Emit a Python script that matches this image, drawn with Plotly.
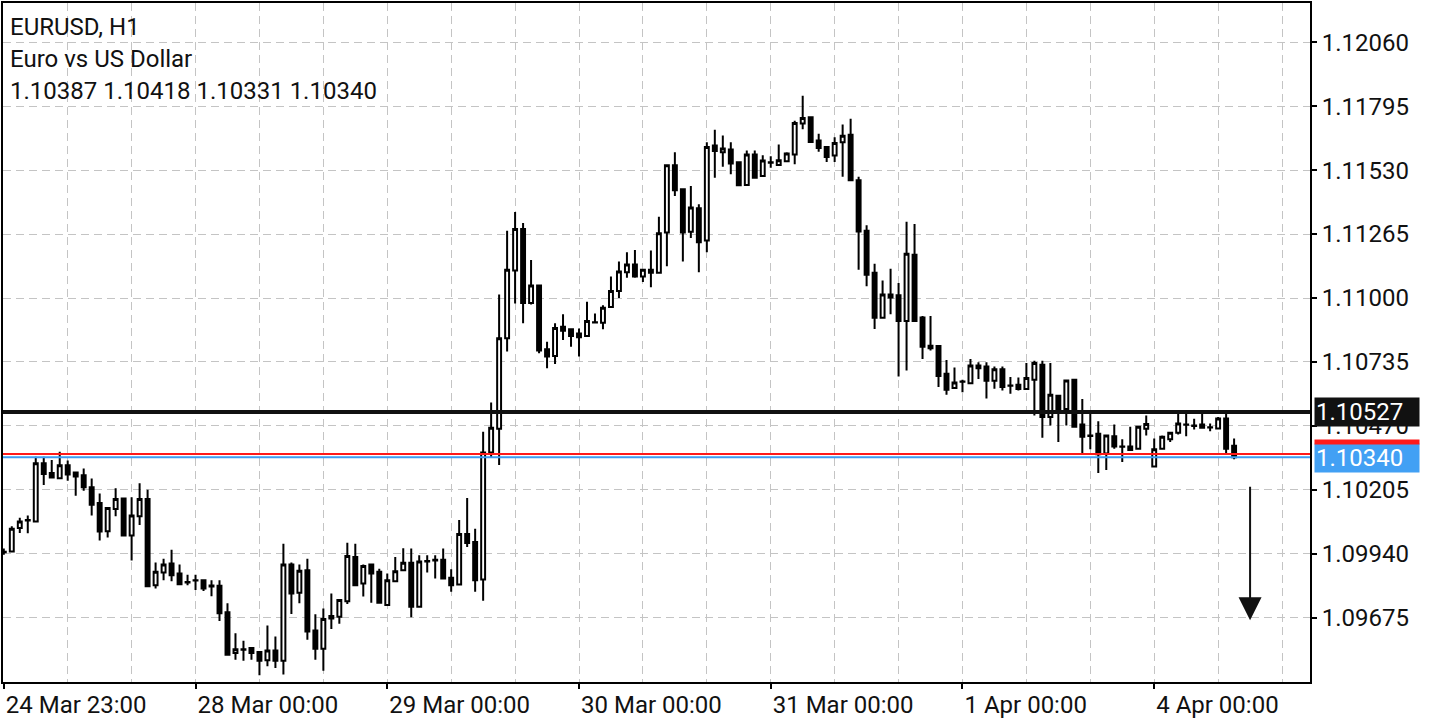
import plotly.graph_objects as go

# EURUSD H1 bars, index 0 = 24 Mar 23:00
opens = [1.09948, 1.09949, 1.10046, 1.10078, 1.10073, 1.10315, 1.10274, 1.10253, 1.10307, 1.10277,
         1.10265, 1.10215, 1.10150, 1.10033, 1.10125, 1.10169, 1.10015, 1.10095, 1.10167, 1.09809,
         1.09862, 1.09899, 1.09858, 1.09823, 1.09830, 1.09830, 1.09808, 1.09807, 1.09697, 1.09528,
         1.09544, 1.09549, 1.09532, 1.09498, 1.09539, 1.09496, 1.09895, 1.09778, 1.09871, 1.09621,
         1.09546, 1.09682, 1.09679, 1.09743, 1.09926, 1.09816, 1.09895, 1.09865, 1.09727, 1.09826,
         1.09871, 1.09902, 1.09720, 1.09910, 1.09915, 1.09915, 1.09840, 1.09812, 1.10022, 1.09988,
         1.09833, 1.10359, 1.10458, 1.10833, 1.11114, 1.11286, 1.10979, 1.11052, 1.10787, 1.10760,
         1.10881, 1.10870, 1.10853, 1.10842, 1.10899, 1.10897, 1.10963, 1.11029, 1.11107, 1.11139,
         1.11089, 1.11117, 1.11105, 1.11272, 1.11550, 1.11451, 1.11275, 1.11372, 1.11238, 1.11632,
         1.11604, 1.11616, 1.11563, 1.11468, 1.11595, 1.11506, 1.11563, 1.11551, 1.11567, 1.11595,
         1.11723, 1.11749, 1.11653, 1.11626, 1.11591, 1.11646, 1.11677, 1.11488, 1.11279, 1.11105,
         1.10918, 1.11015, 1.11011, 1.10905, 1.11179, 1.10919, 1.10802, 1.10801, 1.10686, 1.10627,
         1.10654, 1.10647, 1.10720, 1.10716, 1.10657, 1.10705, 1.10637, 1.10640, 1.10623, 1.10661,
         1.10723, 1.10507, 1.10595, 1.10540, 1.10661, 1.10476, 1.10430, 1.10437, 1.10355, 1.10427,
         1.10384, 1.10384, 1.10375, 1.10458, 1.10301, 1.10375, 1.10414, 1.10441, 1.10476, 1.10471,
         1.10476, 1.10464, 1.10459, 1.10500, 1.10387]
highs = [1.09961, 1.10054, 1.10089, 1.10098, 1.10342, 1.10342, 1.10328, 1.10363, 1.10326, 1.10278,
         1.10293, 1.10252, 1.10190, 1.10134, 1.10211, 1.10170, 1.10174, 1.10232, 1.10205, 1.09903,
         1.09919, 1.09956, 1.09895, 1.09853, 1.09853, 1.09834, 1.09830, 1.09830, 1.09734, 1.09610,
         1.09579, 1.09552, 1.09533, 1.09642, 1.09597, 1.09981, 1.09903, 1.09895, 1.09919, 1.09689,
         1.09713, 1.09775, 1.09749, 1.09985, 1.09981, 1.09895, 1.09896, 1.09878, 1.09858, 1.09926,
         1.09963, 1.09961, 1.09933, 1.09933, 1.09933, 1.09961, 1.09875, 1.10080, 1.10171, 1.10043,
         1.10445, 1.10567, 1.11014, 1.11279, 1.11357, 1.11311, 1.11158, 1.11053, 1.10819, 1.10895,
         1.10933, 1.10871, 1.10874, 1.10984, 1.10936, 1.10970, 1.11089, 1.11151, 1.11190, 1.11199,
         1.11118, 1.11197, 1.11337, 1.11554, 1.11604, 1.11452, 1.11464, 1.11389, 1.11646, 1.11698,
         1.11674, 1.11646, 1.11564, 1.11611, 1.11611, 1.11592, 1.11588, 1.11636, 1.11604, 1.11735,
         1.11838, 1.11750, 1.11681, 1.11627, 1.11666, 1.11719, 1.11743, 1.11503, 1.11302, 1.11142,
         1.11073, 1.11121, 1.11062, 1.11316, 1.11307, 1.10925, 1.10925, 1.10802, 1.10743, 1.10712,
         1.10661, 1.10747, 1.10734, 1.10734, 1.10716, 1.10716, 1.10672, 1.10670, 1.10730, 1.10740,
         1.10740, 1.10730, 1.10596, 1.10659, 1.10664, 1.10581, 1.10521, 1.10489, 1.10434, 1.10476,
         1.10414, 1.10466, 1.10467, 1.10513, 1.10418, 1.10430, 1.10444, 1.10521, 1.10521, 1.10499,
         1.10521, 1.10480, 1.10507, 1.10521, 1.10418]
lows = [1.09936, 1.09948, 1.10026, 1.10025, 1.10072, 1.10225, 1.10252, 1.10252, 1.10242, 1.10180,
        1.10201, 1.10098, 1.09995, 1.10007, 1.10095, 1.10014, 1.09912, 1.10059, 1.09804, 1.09796,
        1.09830, 1.09826, 1.09812, 1.09809, 1.09789, 1.09785, 1.09764, 1.09661, 1.09520, 1.09500,
        1.09496, 1.09500, 1.09436, 1.09473, 1.09466, 1.09439, 1.09690, 1.09734, 1.09583, 1.09500,
        1.09455, 1.09628, 1.09649, 1.09731, 1.09808, 1.09762, 1.09737, 1.09736, 1.09726, 1.09825,
        1.09870, 1.09676, 1.09719, 1.09862, 1.09837, 1.09836, 1.09782, 1.09811, 1.09968, 1.09782,
        1.09745, 1.10338, 1.10308, 1.10778, 1.10977, 1.10895, 1.10973, 1.10771, 1.10709, 1.10726,
        1.10826, 1.10798, 1.10757, 1.10841, 1.10895, 1.10870, 1.10962, 1.11000, 1.11084, 1.11084,
        1.11066, 1.11045, 1.11104, 1.11132, 1.11423, 1.11151, 1.11249, 1.11107, 1.11190, 1.11499,
        1.11544, 1.11513, 1.11466, 1.11467, 1.11498, 1.11505, 1.11540, 1.11550, 1.11566, 1.11554,
        1.11700, 1.11646, 1.11606, 1.11564, 1.11564, 1.11503, 1.11487, 1.11117, 1.11049, 1.10871,
        1.10915, 1.10933, 1.10675, 1.10699, 1.10904, 1.10747, 1.10782, 1.10631, 1.10599, 1.10626,
        1.10609, 1.10646, 1.10664, 1.10583, 1.10624, 1.10617, 1.10603, 1.10617, 1.10622, 1.10513,
        1.10421, 1.10471, 1.10403, 1.10471, 1.10465, 1.10352, 1.10373, 1.10274, 1.10287, 1.10375,
        1.10320, 1.10369, 1.10374, 1.10430, 1.10300, 1.10373, 1.10403, 1.10434, 1.10427, 1.10455,
        1.10461, 1.10448, 1.10458, 1.10352, 1.10331]
closes = [1.09946, 1.10043, 1.10073, 1.10080, 1.10315, 1.10270, 1.10256, 1.10307, 1.10268, 1.10260,
          1.10215, 1.10143, 1.10032, 1.10129, 1.10167, 1.10015, 1.10098, 1.10167, 1.09805, 1.09865,
          1.09895, 1.09851, 1.09813, 1.09820, 1.09829, 1.09796, 1.09804, 1.09693, 1.09521, 1.09544,
          1.09542, 1.09528, 1.09496, 1.09539, 1.09496, 1.09895, 1.09775, 1.09869, 1.09617, 1.09546,
          1.09669, 1.09671, 1.09748, 1.09930, 1.09809, 1.09889, 1.09858, 1.09737, 1.09830, 1.09867,
          1.09902, 1.09720, 1.09908, 1.09908, 1.09912, 1.09837, 1.09809, 1.10022, 1.09984, 1.09830,
          1.10359, 1.10462, 1.10833, 1.11117, 1.11286, 1.10979, 1.11052, 1.10782, 1.10757, 1.10876,
          1.10864, 1.10842, 1.10837, 1.10905, 1.10898, 1.10960, 1.11029, 1.11110, 1.11139, 1.11089,
          1.11117, 1.11105, 1.11268, 1.11550, 1.11447, 1.11272, 1.11375, 1.11231, 1.11626, 1.11609,
          1.11620, 1.11558, 1.11467, 1.11595, 1.11499, 1.11570, 1.11561, 1.11571, 1.11599, 1.11725,
          1.11746, 1.11647, 1.11622, 1.11585, 1.11643, 1.11673, 1.11488, 1.11276, 1.11096, 1.10918,
          1.11015, 1.11002, 1.10905, 1.11183, 1.10905, 1.10798, 1.10792, 1.10677, 1.10620, 1.10650,
          1.10653, 1.10720, 1.10709, 1.10657, 1.10705, 1.10631, 1.10636, 1.10623, 1.10668, 1.10730,
          1.10507, 1.10599, 1.10537, 1.10658, 1.10466, 1.10425, 1.10428, 1.10352, 1.10430, 1.10384,
          1.10383, 1.10370, 1.10466, 1.10478, 1.10373, 1.10425, 1.10441, 1.10480, 1.10474, 1.10469,
          1.10462, 1.10463, 1.10500, 1.10375, 1.10340]
bars = list(range(len(opens)))

day_bars = [0, 24, 48, 72, 96, 120, 144]
day_labels = ["24 Mar 23:00", "28 Mar 00:00", "29 Mar 00:00", "30 Mar 00:00",
              "31 Mar 00:00", "1 Apr 00:00", "4 Apr 00:00"]
grid_bars = list(range(0, 168, 8))
price_ticks = [1.12060, 1.11795, 1.11530, 1.11265, 1.11000, 1.10735,
               1.10470, 1.10205, 1.09940, 1.09675]

level_price = 1.10527
bid_price = 1.10340
ask_price = 1.10353
header = ["EURUSD, H1", "Euro vs US Dollar", "1.10387 1.10418 1.10331 1.10340"]

FONT = "Roboto"
GRID = "#c4c4c4"

fig = go.Figure()
fig.add_trace(go.Candlestick(
    x=bars, open=opens, high=highs, low=lows, close=closes,
    increasing=dict(line=dict(color="black", width=2), fillcolor="white"),
    decreasing=dict(line=dict(color="black", width=2), fillcolor="black"),
    whiskerwidth=0, showlegend=False, hoverinfo="skip"))

# horizontal levels
fig.add_hline(y=level_price, line=dict(color="#111111", width=4))
fig.add_hline(y=ask_price, line=dict(color="#ff1a1a", width=2))
fig.add_hline(y=bid_price, line=dict(color="#3d9bf2", width=2))

# price boxes on the right scale
fig.add_annotation(x=1.0, xref="paper", xanchor="left", xshift=4, y=level_price, yref="y",
                   text="1.10527", showarrow=False, bgcolor="#111111", width=102, height=26,
                   align="left", font=dict(family=FONT, size=24, color="white"))
fig.add_annotation(x=1.0, xref="paper", xanchor="left", xshift=4, y=bid_price, yref="y",
                   yshift=-1, text="1.10340", showarrow=False, bgcolor="#42a0f4", width=102,
                   height=26, align="left", font=dict(family=FONT, size=24, color="white"))
fig.add_annotation(x=1.0, xref="paper", xanchor="left", xshift=4, y=bid_price, yref="y",
                   yshift=15, text="", showarrow=False, bgcolor="#ff1a1a", width=102, height=2,
                   borderpad=1, font=dict(size=1))

# header text
for k, line in enumerate(header):
    fig.add_annotation(x=0, xref="paper", xanchor="left", xshift=5, y=1, yref="paper",
                       yanchor="top", yshift=-8 - 32 * k, text=line, showarrow=False,
                       font=dict(family=FONT, size=24, color="#111111"))

# down arrow
fig.add_annotation(x=156, y=1.09664, xref="x", yref="y", ax=0, ay=-135, text="",
                   showarrow=True, arrowhead=2, arrowsize=2.3, arrowwidth=2,
                   arrowcolor="#111111")

fig.update_layout(
    width=1440, height=720,
    margin=dict(l=3, r=130, t=1, b=36),
    paper_bgcolor="white", plot_bgcolor="white",
    font=dict(family=FONT, size=24, color="#111111"),
    xaxis=dict(range=[-0.1, 163.5], rangeslider=dict(visible=False),
               tickvals=day_bars, ticktext=day_labels, ticks="outside", ticklen=5,
               tickwidth=2, tickcolor="black", ticklabelposition="outside right",
               showgrid=True, gridcolor=GRID, griddash="8px,5px", gridwidth=1,
               minor=dict(tickvals=grid_bars, showgrid=True, gridcolor=GRID,
                          griddash="8px,5px", gridwidth=1, ticks=""),
               showline=True, linecolor="black", linewidth=2, mirror=True,
               zeroline=False),
    yaxis=dict(side="right", range=[1.09408, 1.12223], tickvals=price_ticks,
               tickformat=".5f", ticks="outside", ticklen=5, tickwidth=2,
               tickcolor="black", showgrid=True, gridcolor=GRID, griddash="8px,5px",
               gridwidth=1, showline=True, linecolor="black", linewidth=2,
               mirror=True, zeroline=False),
)

fig.write_html("out.html", config={"displayModeBar": False},
               post_script="document.body.style.margin = '0';")
